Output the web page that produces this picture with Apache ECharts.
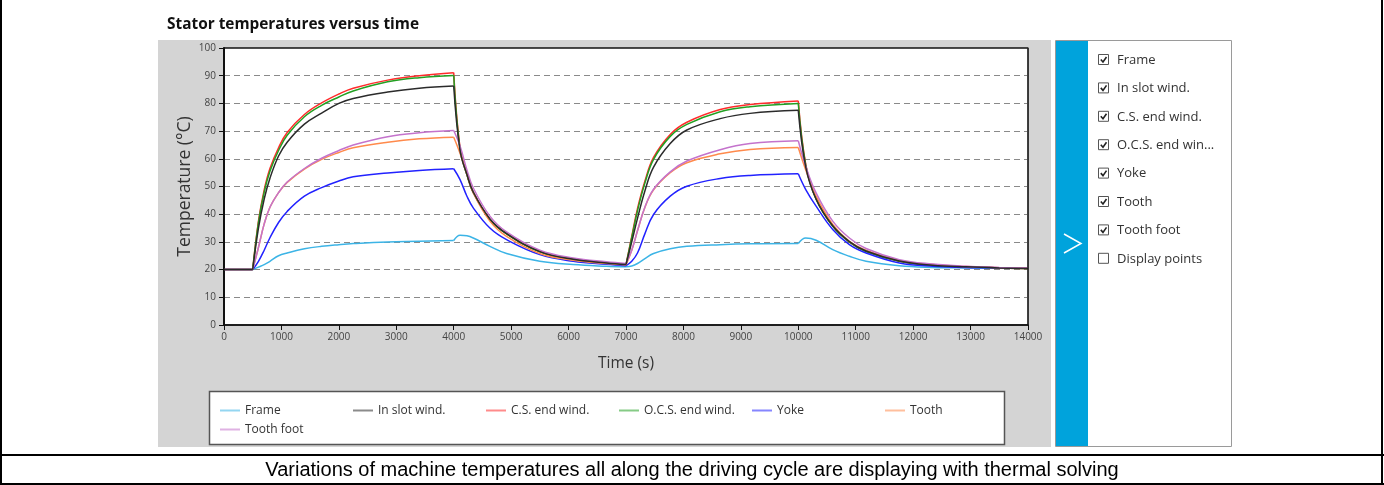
<!DOCTYPE html>
<html>
<head>
<meta charset="utf-8">
<title>Stator temperatures versus time</title>
<script src="https://cdn.jsdelivr.net/npm/echarts@6/dist/echarts.min.js"></script>
<style>
  html, body { margin: 0; padding: 0; background: #fff; }
  #chart { width: 1384px; height: 485px; }
</style>
</head>
<body>
<div id="chart"></div>
<script>
// time points (s)
const timeS = [0, 500, 600, 700, 800, 950, 1100, 1400, 1700, 2000, 2250, 2850, 3400, 4000,
  4110, 4230, 4340, 4630, 4920, 5500, 6080, 6660, 7000,
  7100, 7200, 7330, 7480, 7770, 8060, 8640, 9160, 10000,
  10130, 10310, 10600, 10890, 11180, 11760, 12340, 12920, 13500, 14000];

// temperatures (°C)
const frame = [20, 20, 20.9, 21.8, 23, 25, 26, 27.5, 28.4, 29, 29.4, 30, 30.2, 30.5,
  32.4, 32.2, 31.4, 28.4, 25.8, 23, 21.8, 21.2, 21,
  21.3, 22.2, 24, 25.8, 27.5, 28.4, 29, 29.3, 29.4,
  31.4, 30.6, 27.2, 24.8, 23, 21.4, 20.8, 20.6, 20.5, 20.5];
const inSlot = [20, 20, 35, 45.5, 53, 61, 66, 72.5, 76.5, 80, 81.8, 84.1, 85.5, 86.3,
  63, 54.3, 48, 38.3, 33, 26.5, 23.7, 22.4, 21.8,
  30, 38.5, 48.5, 57, 65.5, 70.4, 74.5, 76.4, 77.5,
  57, 45.5, 35.8, 30.1, 26.7, 23.1, 21.6, 21, 20.6, 20.4];
const csEnd = [20, 20, 37.5, 48.8, 56.5, 64, 69.5, 76, 80.2, 83.4, 85.5, 88.4, 90, 91.1,
  64, 54.5, 48, 38.2, 33, 26.5, 23.7, 22.4, 21.8,
  32, 42, 52, 60.5, 68.8, 73.2, 77.8, 79.6, 80.9,
  58, 45.5, 35.7, 30, 26.6, 23, 21.6, 21, 20.6, 20.4];
const ocsEnd = [20, 20, 37, 48, 55.5, 63, 68.5, 75.2, 79.3, 82.3, 84.5, 87.8, 89.3, 90.1,
  63.5, 54.2, 47.8, 38.1, 32.9, 26.4, 23.6, 22.3, 21.8,
  31.5, 41.2, 51.3, 59.8, 68.1, 72.4, 77, 78.8, 80,
  57.6, 45.4, 35.6, 29.9, 26.5, 23, 21.6, 21, 20.6, 20.4];
const yoke = [20, 20, 23, 27, 31.5, 37, 41, 46.5, 49.6, 52, 53.5, 54.9, 55.8, 56.4,
  52.5, 46.5, 42.3, 35, 30.8, 25.4, 23, 21.9, 21.4,
  23, 26, 33, 39.9, 46.5, 50.1, 52.9, 54, 54.6,
  48.9, 42.9, 34.5, 29, 26, 22.4, 21.2, 20.8, 20.6, 20.5];
const tooth = [20, 20, 28, 36.5, 42.5, 47.8, 51.5, 56.3, 59.8, 62.3, 64, 66, 67.2, 67.8,
  62, 54.3, 47.7, 37.5, 32, 25.8, 23.4, 22.2, 21.7,
  27, 34, 42.5, 48.8, 55, 58.6, 61.8, 63.4, 64.1,
  56, 46.5, 36.3, 30.2, 27, 23.3, 21.8, 21.1, 20.7, 20.5];
const toothFoot = [20, 20, 28, 36.5, 42.5, 47.8, 51.6, 56.5, 60.2, 63, 65, 68, 69.4, 70.2,
  64.6, 56, 49.5, 39.3, 33.6, 27, 24.2, 22.8, 22.2,
  27, 34, 42.6, 49, 55.3, 59.2, 63.3, 65.5, 66.5,
  57.3, 47.7, 37.5, 31.4, 27.6, 23.6, 22, 21.2, 20.8, 20.5];

// load changes (start / stop of the heating phases)
const phaseBreaks = [0, 500, 4000, 7000, 10000, 14000];

const seriesNames = ['Frame', 'In slot wind.', 'C.S. end wind.', 'O.C.S. end wind.', 'Yoke', 'Tooth', 'Tooth foot'];
const seriesValues = [frame, inSlot, csEnd, ocsEnd, yoke, tooth, toothFoot];
const seriesColors = ['#3cb4e6', '#2b2b2b', '#ff2b2b', '#22a022', '#2222ff', '#ff8a4c', '#c473cc'];

const panelItems = ['Frame', 'In slot wind.', 'C.S. end wind.', 'O.C.S. end win...', 'Yoke', 'Tooth', 'Tooth foot', 'Display points'];
const panelChecked = [true, true, true, true, true, true, true, false];

const FONT = '"Open Sans", "Noto Sans", sans-serif';

// one series per phase so that the corners stay sharp
const series = [];
seriesNames.forEach((name, i) => {
  for (let p = 0; p < phaseBreaks.length - 1; p++) {
    const pts = [];
    timeS.forEach((t, k) => {
      if (t >= phaseBreaks[p] && t <= phaseBreaks[p + 1]) pts.push([t, seriesValues[i][k]]);
    });
    series.push({
      name: name,
      type: 'line',
      data: pts,
      showSymbol: false,
      smooth: 0.4,
      color: seriesColors[i],
      lineStyle: { width: 1.5, color: seriesColors[i] },
      z: name === 'In slot wind.' ? 4 : 3,
      animation: false
    });
  }
});

// right hand panel (check boxes)
const panel = [];
panel.push({ type: 'rect', shape: { x: 1055.5, y: 40.5, width: 176, height: 406 }, style: { fill: '#fff', stroke: '#9a9a9a', lineWidth: 1 }, z: -1 });
panel.push({ type: 'rect', shape: { x: 1056, y: 41, width: 32, height: 405 }, style: { fill: '#00a3dc' }, z: -1 });
panel.push({ type: 'polyline', shape: { points: [[1064, 234], [1081, 243.5], [1064, 253]] }, style: { stroke: '#fff', lineWidth: 1.5, fill: null }, z: 1 });
panelItems.forEach((txt, i) => {
  const cy = 60 + i * 28.4;
  panel.push({ type: 'rect', shape: { x: 1098.5, y: cy - 5.5, width: 10, height: 10 }, style: { fill: '#fff', stroke: '#555', lineWidth: 1 }, z: 1 });
  if (panelChecked[i]) {
    panel.push({ type: 'polyline', shape: { points: [[1100.8, cy - 0.5], [1103, cy + 2], [1106.5, cy - 3]] }, style: { stroke: '#222', lineWidth: 1.6, fill: null }, z: 1 });
  }
  panel.push({ type: 'text', x: 1117, y: cy, style: { text: txt, fontFamily: FONT, fontSize: 13, fill: '#333', verticalAlign: 'middle' }, z: 1 });
});

const chart = echarts.init(document.getElementById('chart'), null, { renderer: 'canvas' });
chart.setOption({
  backgroundColor: '#fff',
  animation: false,
  title: {
    text: 'Stator temperatures versus time',
    left: 167, top: 17, padding: 0,
    textStyle: { fontFamily: FONT, fontSize: 15.4, fontWeight: 'bold', color: '#111' }
  },
  grid: {
    left: 224, top: 48, right: 356, bottom: 160,
    show: true, backgroundColor: '#fff', borderColor: '#111', borderWidth: 1,
    outerBoundsMode: 'none'
  },
  legend: {
    left: 220, top: 401, width: 800, padding: 0,
    itemGap: 0, itemWidth: 20, itemHeight: 2, icon: 'rect',
    data: seriesNames,
    selectedMode: false,
    itemStyle: { opacity: 0.55 },
    textStyle: { fontFamily: FONT, fontSize: 12, color: '#333', width: 108, lineHeight: 19 }
  },
  xAxis: {
    type: 'value', min: 0, max: 14000, interval: 1000,
    name: 'Time (s)', nameLocation: 'middle', nameGap: 31, nameMoveOverlap: false,
    nameTextStyle: { fontFamily: FONT, fontSize: 15.5, color: '#333' },
    axisLine: { show: true, onZero: false, lineStyle: { color: '#111', width: 1.5 } },
    axisTick: { show: true, inside: false, length: 5, lineStyle: { color: '#111' } },
    axisLabel: {
      fontFamily: FONT, fontSize: 10, color: '#444', margin: 7,
      showMinLabel: true, showMaxLabel: true, hideOverlap: false,
      formatter: (v) => String(v)
    },
    splitLine: { show: false }
  },
  yAxis: {
    type: 'value', min: 0, max: 100, interval: 10,
    name: 'Temperature (°C)', nameLocation: 'middle', nameGap: 30, nameRotate: 90, nameMoveOverlap: false,
    nameTextStyle: { fontFamily: FONT, fontSize: 17.5, color: '#333' },
    axisLine: { show: true, onZero: false, lineStyle: { color: '#111', width: 2 } },
    axisTick: { show: true, inside: false, length: 5, lineStyle: { color: '#111' } },
    axisLabel: { fontFamily: FONT, fontSize: 10, color: '#444', margin: 8, showMinLabel: true, showMaxLabel: true },
    splitLine: { show: true, lineStyle: { color: '#8a8a8a', type: [6, 4], width: 1 } }
  },
  graphic: [
    // gray chart panel
    { type: 'rect', shape: { x: 158, y: 40, width: 893, height: 407 }, style: { fill: '#d4d4d4' }, z: -2 },
    // legend box
    { type: 'rect', shape: { x: 209.5, y: 391.5, width: 795, height: 53 }, style: { fill: '#fff', stroke: '#555', lineWidth: 1.5 }, z: -1 },
    // plot frame on top of the dashed lines
    { type: 'rect', shape: { x: 224, y: 48, width: 804, height: 277 }, style: { fill: null, stroke: '#111', lineWidth: 1.2 }, z: 5 },
    // page / caption borders
    { type: 'line', shape: { x1: 1, y1: 0, x2: 1, y2: 485 }, style: { stroke: '#000', lineWidth: 2 }, z: 5 },
    { type: 'line', shape: { x1: 1382, y1: 0, x2: 1382, y2: 485 }, style: { stroke: '#000', lineWidth: 2 }, z: 5 },
    { type: 'line', shape: { x1: 0, y1: 455, x2: 1384, y2: 455 }, style: { stroke: '#000', lineWidth: 2 }, z: 5 },
    { type: 'line', shape: { x1: 0, y1: 484, x2: 1384, y2: 484 }, style: { stroke: '#000', lineWidth: 2 }, z: 5 },
    {
      type: 'text', x: 692, y: 470,
      style: { text: 'Variations of machine temperatures all along the driving cycle are displaying with thermal solving',
        fontFamily: '"Liberation Sans", Arial, sans-serif', fontSize: 20, fill: '#000', align: 'center', verticalAlign: 'middle' },
      z: 5
    }
  ].concat(panel),
  series: series
});
</script>
</body>
</html>
